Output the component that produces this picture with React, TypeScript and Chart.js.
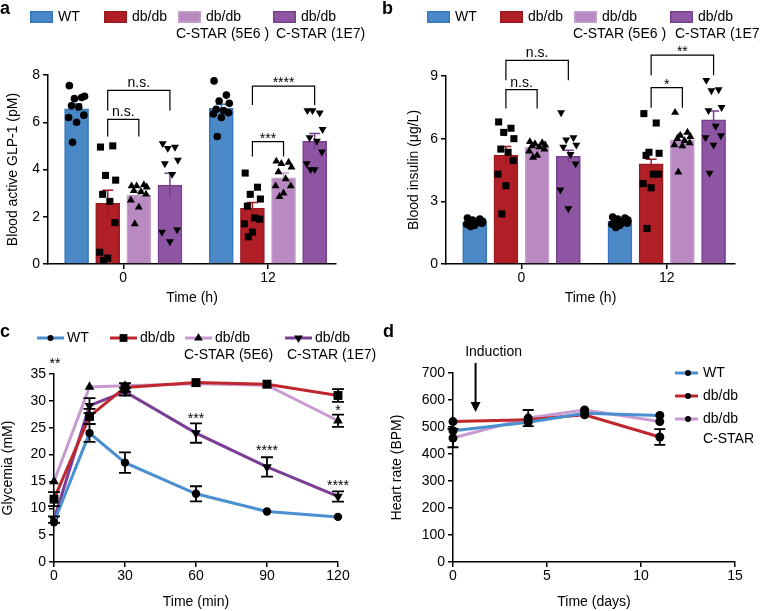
import React, { useEffect, useRef } from "react";
import { Chart, registerables } from "chart.js";

Chart.register(...registerables);

const FONT = '"Liberation Sans", Arial, Helvetica, sans-serif';
const FS = 14;

// ---------- Panels a & b (bars + individual animals) ----------
const GROUP_LABELS = ["0", "12"];
const SERIES_LINE1 = ["WT", "db/db", "db/db", "db/db"];
const SERIES_LINE2_AB = ["", "", "C-STAR (5E6 )", "C-STAR (1E7)"];
const BAR_FILL = ["#4a88c6", "#b01f25", "#b98ac1", "#8e55a3"];
const BAR_EDGE = ["#3677bb", "#9a1a20", "#c6a0cd", "#793f8f"];
const DOT_STYLE = ["circle", "rect", "triangle", "triangle"];
const DOT_ROT = [0, 0, 0, 180];
const DOT_RADIUS = [3.8, 5, 4.6, 4.6];
const JITTER = [-0.05, 0.035, -0.015, 0.055, -0.035, 0.015, 0.05, -0.055, 0.0, -0.028];

// a: blood active GLP-1 (pM), per series: [0 h, 12 h]
const GLP1_MEAN_WT = [6.57, 6.59];
const GLP1_MEAN_DB = [2.57, 2.36];
const GLP1_MEAN_5E6 = [2.92, 3.65];
const GLP1_MEAN_1E7 = [3.34, 5.19];
const GLP1_SEM_WT = [0.2, 0.17];
const GLP1_SEM_DB = [0.55, 0.24];
const GLP1_SEM_5E6 = [0.18, 0.2];
const GLP1_SEM_1E7 = [0.5, 0.33];
const GLP1_PTS_WT = [
  [7.55, 7.05, 7.0, 7.1, 6.7, 6.65, 6.3, 6.2, 6.0, 5.15],
  [7.75, 7.15, 6.9, 6.8, 6.55, 6.5, 6.4, 6.35, 6.2, 5.4],
];
const GLP1_PTS_DB = [
  [4.95, 5.0, 3.75, 3.55, 2.95, 2.65, 1.75, 0.5, 0.25, 0.15],
  [3.85, 3.25, 2.95, 2.75, 2.45, 1.95, 1.9, 1.7, 1.35, 1.15],
];
const GLP1_PTS_5E6 = [
  [3.3, 3.35, 3.3, 3.25, 3.1, 3.05, 2.95, 2.7, 2.4, 1.7],
  [4.35, 4.3, 4.25, 4.1, 3.9, 3.6, 3.3, 3.3, 3.0, 2.85],
];
const GLP1_PTS_1E7 = [
  [5.1, 4.95, 4.9, 4.4, 4.25, 3.8, 1.45, 1.35, 0.95],
  [6.5, 6.4, 6.5, 5.7, 5.35, 5.2, 4.75, 4.25, 4.0, 4.0],
];
// [group, fromSeries, toSeries, bracketTop, legBottom, label]
const GLP1_BRACKETS: [number, number, number, number, number, string][] = [
  [0, 1, 3, 7.35, 6.5, "n.s."],
  [0, 1, 2, 6.12, 5.4, "n.s."],
  [1, 1, 3, 7.53, 6.73, "****"],
  [1, 1, 2, 5.18, 4.55, "***"],
];

// b: blood insulin (µg/L)
const INS_MEAN_WT = [2.02, 2.05];
const INS_MEAN_DB = [5.21, 4.8];
const INS_MEAN_5E6 = [5.6, 5.95];
const INS_MEAN_1E7 = [5.15, 6.9];
const INS_SEM_WT = [0.05, 0.05];
const INS_SEM_DB = [0.42, 0.22];
const INS_SEM_5E6 = [0.1, 0.28];
const INS_SEM_1E7 = [0.3, 0.43];
const INS_PTS_WT = [
  [2.2, 2.15, 2.1, 2.05, 2.0, 2.0, 1.95, 1.9, 1.85, 1.8],
  [2.25, 2.2, 2.15, 2.1, 2.05, 2.0, 1.95, 1.9, 1.85, 1.75],
];
const INS_PTS_DB = [
  [6.8, 6.5, 6.3, 6.0, 5.5, 5.35, 4.95, 4.3, 3.75, 2.4],
  [7.2, 6.75, 5.35, 5.3, 5.2, 4.3, 4.3, 3.85, 3.65, 1.7],
];
const INS_PTS_5E6 = [
  [5.85, 5.8, 5.75, 5.7, 5.65, 5.6, 5.5, 5.4, 5.2, 5.1],
  [7.25, 6.3, 6.15, 6.1, 6.0, 5.9, 5.8, 5.7, 5.65, 4.4],
];
const INS_PTS_1E7 = [
  [7.25, 6.05, 5.95, 5.7, 5.6, 5.25, 4.8, 3.55, 2.65],
  [8.8, 8.35, 8.3, 7.5, 7.35, 6.6, 6.15, 6.05, 5.7, 4.35],
];
const INS_BRACKETS: [number, number, number, number, number, string][] = [
  [0, 1, 3, 9.75, 8.8, "n.s."],
  [0, 1, 2, 8.35, 7.45, "n.s."],
  [1, 1, 3, 10.0, 9.03, "**"],
  [1, 1, 2, 8.44, 7.48, "*"],
];

// ---------- Panel c (glycemia time course) ----------
const C_TIME = [0, 15, 30, 60, 90, 120];
const C_WT = [7.4, 24.0, 18.5, 12.7, 9.4, 8.4];
const C_DB = [11.7, 27.1, 32.5, 33.4, 33.1, 31.0];
const C_5E6 = [15.0, 32.6, 32.8, 33.2, 32.9, 26.3];
const C_1E7 = [7.9, 29.1, 31.7, 24.0, 17.7, 12.2];
const C_WT_SEM = [0.4, 1.65, 1.9, 1.4, 0.3, 0.3];
const C_DB_SEM = [1.3, 1.4, 0.8, 0.3, 0.3, 1.2];
const C_5E6_SEM = [0.5, 0.3, 0.3, 0.3, 0.3, 1.15];
const C_1E7_SEM = [0.6, 1.4, 0.7, 1.8, 1.8, 0.95];
const C_LINE2 = ["", "", "C-STAR (5E6)", "C-STAR (1E7)"];
const C_COLORS = ["#4a8fd0", "#c0272d", "#c79bd0", "#7b3e96"];
const C_MARK_RADIUS = [4.2, 6.3, 5.6, 5.6];
const C_STAR_X = [0, 60, 90, 120, 120];
const C_STAR_Y = [36.1, 25.9, 19.9, 13.4, 27.4];
const C_STAR_TEXT = ["**", "***", "****", "****", "*"];

// ---------- Panel d (heart rate) ----------
const D_DAYS = [0, 4, 7, 11];
const D_NAMES = ["WT", "db/db", "db/db"];
const D_LINE2 = ["", "", "C-STAR"];
const D_WT = [486, 518, 551, 543];
const D_DB = [520, 527, 545, 463];
const D_CSTAR = [459, 533, 563, 520];
const D_WT_SEM = [8, 10, 6, 6];
const D_DB_SEM = [6, 8, 6, 29];
const D_CSTAR_SEM = [34, 30, 6, 8];
const D_COLORS = ["#4a8fd0", "#c0272d", "#c79bd0"];
const INDUCTION_DAY = 1.2;

// ---------- helpers ----------
type Area = { l: number; t: number; r: number; b: number };

function drawMarker(ctx: CanvasRenderingContext2D, style: string, x: number, y: number, r: number, rot: number) {
  ctx.save();
  ctx.translate(x, y);
  ctx.rotate((rot * Math.PI) / 180);
  ctx.beginPath();
  if (style === "circle") ctx.arc(0, 0, r, 0, Math.PI * 2);
  else if (style === "rect") {
    const s = r * Math.SQRT1_2;
    ctx.rect(-s, -s, 2 * s, 2 * s);
  } else {
    for (let i = 0; i < 3; i++) {
      const a = (i * 2 * Math.PI) / 3;
      const px = Math.sin(a) * r;
      const py = -Math.cos(a) * r;
      if (i) ctx.lineTo(px, py);
      else ctx.moveTo(px, py);
    }
    ctx.closePath();
  }
  ctx.fillStyle = "#000";
  ctx.fill();
  ctx.restore();
}

function axisCommon(extra: any) {
  return {
    ticks: { color: "#000", font: { family: FONT, size: FS }, padding: 3, maxRotation: 0, autoSkip: false },
    grid: { display: true, drawOnChartArea: false, drawTicks: true, tickLength: 5, color: "#000", lineWidth: 1.5, offset: false },
    border: { display: true, color: "#000", width: 1.5 },
    ...extra,
  };
}

function letter(ctx: CanvasRenderingContext2D, t: string, x: number, y: number) {
  ctx.save();
  ctx.font = `bold 18px ${FONT}`;
  ctx.fillStyle = "#000";
  ctx.textAlign = "left";
  ctx.textBaseline = "alphabetic";
  ctx.fillText(t, x, y);
  ctx.restore();
}

function errBar(ctx: CanvasRenderingContext2D, x: number, yLo: number, yHi: number, half: number, color: string, lw: number, lowCap: boolean) {
  ctx.save();
  ctx.strokeStyle = color;
  ctx.lineWidth = lw;
  ctx.beginPath();
  ctx.moveTo(x, yLo);
  ctx.lineTo(x, yHi);
  ctx.moveTo(x - half, yHi);
  ctx.lineTo(x + half, yHi);
  if (lowCap) {
    ctx.moveTo(x - half, yLo);
    ctx.lineTo(x + half, yLo);
  }
  ctx.stroke();
  ctx.restore();
}

// ---------- bar panel builder ----------
const X_MIN_AB = -0.52;
const X_MAX_AB = 1.47;
const SERIES_PITCH = 0.215;

type BarSpec = {
  H: number;
  W: number;
  area: Area;
  means: number[][];
  sems: number[][];
  pts: number[][][];
  yMax: number;
  yStep: number;
  yTitle: string;
  yTitlePad: number;
  xTitlePad: number;
  brackets: [number, number, number, number, number, string][];
  letter: string;
  letterX: number;
  legendX: number[];
  legend2X: number[];
};

function buildBarPanel(p: BarSpec): any {
  const offs = [0, 1, 2, 3].map((s) => (s - 1.5) * SERIES_PITCH);
  const barSets = p.means.map((m, s) => ({
    type: "bar",
    order: 2,
    label: SERIES_LINE1[s],
    data: m.map((v, g) => ({ x: g + offs[s], y: v })),
    backgroundColor: BAR_FILL[s],
    borderColor: BAR_EDGE[s],
    borderWidth: 1.5,
    barThickness: 24,
    grouped: false,
  }));
  const dotSets = p.pts.map((groups, s) => ({
    type: "scatter",
    order: 1,
    clip: false,
    label: SERIES_LINE1[s] + " pts",
    data: groups.flatMap((vals, g) => vals.map((v, k) => ({ x: g + offs[s] + JITTER[k % JITTER.length], y: v }))),
    pointStyle: DOT_STYLE[s],
    pointRotation: DOT_ROT[s],
    pointRadius: DOT_RADIUS[s],
    pointHoverRadius: DOT_RADIUS[s],
    pointBackgroundColor: "#000",
    pointBorderColor: "#000",
    pointBorderWidth: 0,
  }));
  const overlay = {
    id: "overlay" + p.letter,
    afterDatasetDraw(chart: any, args: any) {
      const ds = chart.data.datasets[args.index];
      if (ds.type !== "bar") return;
      const s = args.index;
      const xs = chart.scales.x;
      const ys = chart.scales.y;
      p.means[s].forEach((m, g) => {
        const x = xs.getPixelForValue(g + offs[s]);
        errBar(chart.ctx, x, ys.getPixelForValue(m - p.sems[s][g]), ys.getPixelForValue(m + p.sems[s][g]), 5.5, BAR_EDGE[s], 1.5, false);
      });
    },
    afterDraw(chart: any) {
      const ctx = chart.ctx as CanvasRenderingContext2D;
      const xs = chart.scales.x;
      const ys = chart.scales.y;
      ctx.save();
      ctx.strokeStyle = "#000";
      ctx.fillStyle = "#000";
      ctx.lineWidth = 1.2;
      ctx.font = `${FS}px ${FONT}`;
      ctx.textAlign = "center";
      ctx.textBaseline = "alphabetic";
      p.brackets.forEach(([g, a, b, top, leg, label]) => {
        const x1 = xs.getPixelForValue(g + offs[a]);
        const x2 = xs.getPixelForValue(g + offs[b]);
        const yt = ys.getPixelForValue(top);
        const yl = ys.getPixelForValue(leg);
        ctx.beginPath();
        ctx.moveTo(x1, yl);
        ctx.lineTo(x1, yt);
        ctx.lineTo(x2, yt);
        ctx.lineTo(x2, yl);
        ctx.stroke();
        ctx.fillText(label, (x1 + x2) / 2, label.includes("*") ? yt + 1 : yt - 3);
      });
      // legend
      SERIES_LINE1.forEach((t, s) => {
        const x = p.legendX[s];
        ctx.fillStyle = BAR_FILL[s];
        ctx.fillRect(x, 11, 23, 12);
        ctx.strokeStyle = BAR_EDGE[s];
        ctx.lineWidth = 1.5;
        ctx.strokeRect(x + 0.75, 11.75, 21.5, 10.5);
        ctx.fillStyle = "#000";
        ctx.textAlign = "left";
        ctx.textBaseline = "middle";
        ctx.fillText(t, x + 28, 17.5);
        if (SERIES_LINE2_AB[s]) ctx.fillText(SERIES_LINE2_AB[s], p.legend2X[s], 34);
      });
      ctx.restore();
      letter(ctx, p.letter, p.letterX, 14);
    },
  };
  return {
    type: "bar",
    data: { datasets: [...barSets, ...dotSets] },
    plugins: [overlay],
    options: {
      responsive: false,
      animation: false,
      events: [],
      layout: { padding: { left: 0, top: p.area.t, right: p.W - p.area.r, bottom: 0 } },
      plugins: { legend: { display: false }, tooltip: { enabled: false } },
      scales: {
        x: axisCommon({
          type: "linear",
          min: X_MIN_AB,
          max: X_MAX_AB,
          offset: false,
          afterBuildTicks: (s: any) => {
            s.ticks = GROUP_LABELS.map((_, i) => ({ value: i }));
          },
          ticks: {
            color: "#000",
            font: { family: FONT, size: FS },
            padding: 1,
            maxRotation: 0,
            autoSkip: false,
            callback: (v: any) => GROUP_LABELS[v] ?? "",
          },
          title: { display: true, text: "Time (h)", color: "#000", font: { family: FONT, size: FS }, padding: { top: 0, bottom: p.xTitlePad } },
          afterFit: (s: any) => {
            s.height = p.H - p.area.b;
          },
        }),
        y: axisCommon({
          type: "linear",
          min: 0,
          max: p.yMax,
          ticks: { color: "#000", font: { family: FONT, size: FS }, padding: 3, stepSize: p.yStep },
          title: { display: true, text: p.yTitle, color: "#000", font: { family: FONT, size: FS }, padding: { top: p.yTitlePad, bottom: 0 } },
          afterFit: (s: any) => {
            s.width = p.area.l;
          },
        }),
      },
    },
  };
}

function buildPanelA() {
  return buildBarPanel({
    W: 380,
    H: 318,
    area: { l: 48, t: 75, r: 336, b: 264 },
    means: [GLP1_MEAN_WT, GLP1_MEAN_DB, GLP1_MEAN_5E6, GLP1_MEAN_1E7],
    sems: [GLP1_SEM_WT, GLP1_SEM_DB, GLP1_SEM_5E6, GLP1_SEM_1E7],
    pts: [GLP1_PTS_WT, GLP1_PTS_DB, GLP1_PTS_5E6, GLP1_PTS_1E7],
    yMax: 8,
    yStep: 2,
    yTitle: "Blood active GLP-1 (pM)",
    yTitlePad: 5,
    xTitlePad: 11.6,
    brackets: GLP1_BRACKETS,
    letter: "a",
    letterX: 0,
    legendX: [30, 104, 178, 273],
    legend2X: [0, 0, 176, 276],
  });
}

function buildPanelB() {
  return buildBarPanel({
    W: 380,
    H: 318,
    area: { l: 66, t: 76, r: 355, b: 264 },
    means: [INS_MEAN_WT, INS_MEAN_DB, INS_MEAN_5E6, INS_MEAN_1E7],
    sems: [INS_SEM_WT, INS_SEM_DB, INS_SEM_5E6, INS_SEM_1E7],
    pts: [INS_PTS_WT, INS_PTS_DB, INS_PTS_5E6, INS_PTS_1E7],
    yMax: 9,
    yStep: 3,
    yTitle: "Blood insulin (μg/L)",
    yTitlePad: 25.6,
    xTitlePad: 11.6,
    brackets: INS_BRACKETS,
    letter: "b",
    letterX: 2,
    legendX: [47, 120, 194, 290],
    legend2X: [0, 0, 193, 295],
  });
}

// ---------- panel c ----------
function buildPanelC(): any {
  const W = 380;
  const H = 293;
  const area: Area = { l: 54, t: 56, r: 338, b: 244 };
  const vals = [C_WT, C_DB, C_5E6, C_1E7];
  const sems = [C_WT_SEM, C_DB_SEM, C_5E6_SEM, C_1E7_SEM];
  const sets = vals.map((v, s) => ({
    type: "line",
    label: SERIES_LINE1[s],
    data: C_TIME.map((t, i) => ({ x: t, y: v[i] })),
    borderColor: C_COLORS[s],
    borderWidth: 3,
    tension: 0,
    clip: false,
    pointStyle: DOT_STYLE[s],
    pointRotation: DOT_ROT[s],
    pointRadius: C_MARK_RADIUS[s],
    pointHoverRadius: C_MARK_RADIUS[s],
    pointBackgroundColor: "#000",
    pointBorderColor: "#000",
    pointBorderWidth: 0,
  }));
  const overlay = {
    id: "overlayC",
    afterDatasetsDraw(chart: any) {
      const ctx = chart.ctx as CanvasRenderingContext2D;
      const xs = chart.scales.x;
      const ys = chart.scales.y;
      vals.forEach((v, s) => {
        v.forEach((m, i) => {
          if (sems[s][i] < 0.6) return;
          errBar(ctx, xs.getPixelForValue(C_TIME[i]), ys.getPixelForValue(m - sems[s][i]), ys.getPixelForValue(m + sems[s][i]), 6, "#000", 1.8, true);
        });
      });
    },
    afterDraw(chart: any) {
      const ctx = chart.ctx as CanvasRenderingContext2D;
      const xs = chart.scales.x;
      const ys = chart.scales.y;
      ctx.save();
      ctx.font = `${FS}px ${FONT}`;
      ctx.fillStyle = "#000";
      ctx.textAlign = "center";
      ctx.textBaseline = "alphabetic";
      C_STAR_TEXT.forEach((t, i) => {
        ctx.fillText(t, xs.getPixelForValue(C_STAR_X[i]) + (i === 0 ? 1 : 0), ys.getPixelForValue(C_STAR_Y[i]));
      });
      const lx = [37, 110, 185, 285];
      const l2x = [0, 0, 184, 287];
      const legR = [3, 5.5, 5, 5];
      SERIES_LINE1.forEach((t, s) => {
        ctx.strokeStyle = C_COLORS[s];
        ctx.lineWidth = 3;
        ctx.beginPath();
        ctx.moveTo(lx[s], 20);
        ctx.lineTo(lx[s] + 27, 20);
        ctx.stroke();
        drawMarker(ctx, DOT_STYLE[s], lx[s] + 13.5, 20, legR[s], DOT_ROT[s]);
        ctx.fillStyle = "#000";
        ctx.textAlign = "left";
        ctx.textBaseline = "middle";
        ctx.fillText(t, lx[s] + 30, 20.5);
        if (C_LINE2[s]) ctx.fillText(C_LINE2[s], l2x[s], 37.5);
      });
      ctx.restore();
      letter(ctx, "c", 0, 19);
    },
  };
  return {
    type: "line",
    data: { datasets: sets },
    plugins: [overlay],
    options: {
      responsive: false,
      animation: false,
      events: [],
      layout: { padding: { left: 0, top: area.t, right: W - area.r, bottom: 0 } },
      plugins: { legend: { display: false }, tooltip: { enabled: false } },
      scales: {
        x: axisCommon({
          type: "linear",
          min: 0,
          max: 120,
          ticks: { color: "#000", font: { family: FONT, size: FS }, padding: 1, stepSize: 30, maxRotation: 0 },
          title: { display: true, text: "Time (min)", color: "#000", font: { family: FONT, size: FS }, padding: { top: 0, bottom: 0.6 } },
          afterFit: (s: any) => {
            s.height = H - area.b;
          },
        }),
        y: axisCommon({
          type: "linear",
          min: 0,
          max: 35,
          ticks: { color: "#000", font: { family: FONT, size: FS }, padding: 3, stepSize: 5 },
          title: { display: true, text: "Glycemia (mM)", color: "#000", font: { family: FONT, size: FS }, padding: { top: 0.1, bottom: 0 } },
          afterFit: (s: any) => {
            s.width = area.l;
          },
        }),
      },
    },
  };
}

// ---------- panel d ----------
function buildPanelD(): any {
  const W = 380;
  const H = 293;
  const area: Area = { l: 73, t: 55, r: 355, b: 244 };
  const vals = [D_WT, D_DB, D_CSTAR];
  const sems = [D_WT_SEM, D_DB_SEM, D_CSTAR_SEM];
  const sets = vals.map((v, s) => ({
    type: "line",
    label: D_NAMES[s],
    data: D_DAYS.map((t, i) => ({ x: t, y: v[i] })),
    borderColor: D_COLORS[s],
    borderWidth: 3,
    tension: 0,
    clip: false,
    pointStyle: "circle",
    pointRadius: 4.5,
    pointHoverRadius: 4.5,
    pointBackgroundColor: "#000",
    pointBorderColor: "#000",
    pointBorderWidth: 0,
  }));
  const overlay = {
    id: "overlayD",
    afterDatasetsDraw(chart: any) {
      const ctx = chart.ctx as CanvasRenderingContext2D;
      const xs = chart.scales.x;
      const ys = chart.scales.y;
      vals.forEach((v, s) => {
        v.forEach((m, i) => {
          if (sems[s][i] < 12) return;
          errBar(ctx, xs.getPixelForValue(D_DAYS[i]), ys.getPixelForValue(m - sems[s][i]), ys.getPixelForValue(m + sems[s][i]), 5.5, "#000", 1.8, true);
        });
      });
    },
    afterDraw(chart: any) {
      const ctx = chart.ctx as CanvasRenderingContext2D;
      const xs = chart.scales.x;
      const ys = chart.scales.y;
      ctx.save();
      ctx.font = `${FS}px ${FONT}`;
      ctx.fillStyle = "#000";
      // induction arrow
      const ax = xs.getPixelForValue(INDUCTION_DAY);
      const yTop = ys.getPixelForValue(737);
      const yTip = ys.getPixelForValue(556);
      ctx.strokeStyle = "#000";
      ctx.lineWidth = 2;
      ctx.beginPath();
      ctx.moveTo(ax, yTop);
      ctx.lineTo(ax, yTip - 8);
      ctx.stroke();
      ctx.beginPath();
      ctx.moveTo(ax - 5, yTip - 10);
      ctx.lineTo(ax + 5, yTip - 10);
      ctx.lineTo(ax, yTip);
      ctx.closePath();
      ctx.fill();
      ctx.textAlign = "center";
      ctx.textBaseline = "middle";
      ctx.fillText("Induction", ax + 18, ys.getPixelForValue(778));
      // legend
      const ly = [55, 78, 101];
      D_NAMES.forEach((t, s) => {
        ctx.strokeStyle = D_COLORS[s];
        ctx.lineWidth = 3;
        ctx.beginPath();
        ctx.moveTo(295, ly[s]);
        ctx.lineTo(318, ly[s]);
        ctx.stroke();
        drawMarker(ctx, "circle", 308, ly[s], 3, 0);
        ctx.fillStyle = "#000";
        ctx.textAlign = "left";
        ctx.textBaseline = "middle";
        ctx.fillText(t, 323, ly[s] + 0.5);
        if (D_LINE2[s]) ctx.fillText(D_LINE2[s], 323, ly[s] + 20);
      });
      ctx.restore();
      letter(ctx, "d", 3, 19);
    },
  };
  return {
    type: "line",
    data: { datasets: sets },
    plugins: [overlay],
    options: {
      responsive: false,
      animation: false,
      events: [],
      layout: { padding: { left: 0, top: area.t, right: W - area.r, bottom: 0 } },
      plugins: { legend: { display: false }, tooltip: { enabled: false } },
      scales: {
        x: axisCommon({
          type: "linear",
          min: 0,
          max: 15,
          ticks: { color: "#000", font: { family: FONT, size: FS }, padding: 1, stepSize: 5, maxRotation: 0 },
          title: { display: true, text: "Time (days)", color: "#000", font: { family: FONT, size: FS }, padding: { top: 0, bottom: 0 } },
          afterFit: (s: any) => {
            s.height = H - area.b;
          },
        }),
        y: axisCommon({
          type: "linear",
          min: 0,
          max: 700,
          ticks: { color: "#000", font: { family: FONT, size: FS }, padding: 3, stepSize: 100 },
          title: { display: true, text: "Heart rate (BPM)", color: "#000", font: { family: FONT, size: FS }, padding: { top: 9.1, bottom: 0 } },
          afterFit: (s: any) => {
            s.width = area.l;
          },
        }),
      },
    },
  };
}

function ChartCanvas(props: { left: number; top: number; width: number; height: number; build: () => any }) {
  const ref = useRef<HTMLCanvasElement>(null);
  useEffect(() => {
    const chart = new Chart(ref.current as HTMLCanvasElement, props.build());
    return () => chart.destroy();
  }, []);
  return (
    <canvas
      ref={ref}
      width={props.width}
      height={props.height}
      style={{ position: "absolute", left: props.left, top: props.top, width: props.width, height: props.height }}
    />
  );
}

export default function App() {
  return (
    <div style={{ position: "absolute", left: 0, top: 0, width: 760, height: 611, background: "#fff", overflow: "hidden" }}>
      <ChartCanvas left={0} top={0} width={380} height={318} build={buildPanelA} />
      <ChartCanvas left={380} top={0} width={380} height={318} build={buildPanelB} />
      <ChartCanvas left={0} top={318} width={380} height={293} build={buildPanelC} />
      <ChartCanvas left={380} top={318} width={380} height={293} build={buildPanelD} />
    </div>
  );
}
